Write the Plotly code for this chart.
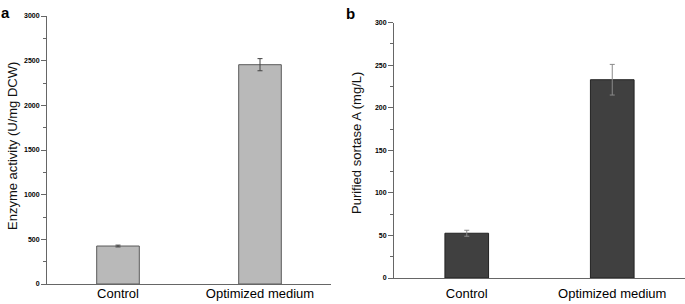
import plotly.graph_objects as go

categories = ["Control", "Optimized medium"]
enzyme_activity = [425, 2455]
enzyme_err = [10, 68]
sortase = [52.6, 233]
sortase_err = [3.5, 18]
y_ticks_a = [0, 500, 1000, 1500, 2000, 2500, 3000]
y_ticks_b = [0, 50, 100, 150, 200, 250, 300]

W, H = 685, 304
fig = go.Figure()

fig.add_trace(go.Bar(
    x=categories, y=enzyme_activity, width=0.3,
    marker=dict(color="#b9b9b9", line=dict(color="#5a5a5a", width=1)),
    error_y=dict(type="data", array=enzyme_err, color="#444444", thickness=1, width=2.5),
    xaxis="x", yaxis="y", showlegend=False, hoverinfo="skip"))

fig.add_trace(go.Bar(
    x=categories, y=sortase, width=0.3,
    marker=dict(color="#404040", line=dict(color="#222222", width=1)),
    error_y=dict(type="data", array=sortase_err, color="#8a8a8a", thickness=1, width=2.5),
    xaxis="x2", yaxis="y2", showlegend=False, hoverinfo="skip"))

font_family = "Liberation Sans, Arial, sans-serif"
common_x = dict(showline=True, linecolor="#666666", linewidth=1, ticks="", showgrid=False,
                zeroline=False, tickfont=dict(family=font_family, size=13, color="#000000"),
                range=[-0.5, 1.5], fixedrange=True, automargin=False)
common_y = dict(showline=True, linecolor="#666666", linewidth=1, ticks="outside", ticklen=5,
                tickcolor="#666666", showgrid=False, zeroline=False, automargin=False,
                fixedrange=True,
                tickfont=dict(family=font_family, size=7, color="#000000", weight="bold"))

fig.update_layout(
    width=W, height=H, margin=dict(l=0, r=0, t=0, b=0),
    paper_bgcolor="white", plot_bgcolor="white",
    xaxis=dict(domain=[47 / W, 331 / W], anchor="y", ticklabelstandoff=-3, **common_x),
    yaxis=dict(domain=[(H - 284) / H, (H - 16) / H], anchor="x", range=[0, 3000],
               tickvals=y_ticks_a,
               minor=dict(ticks="outside", ticklen=3, tickcolor="#666666", dtick=250),
               **common_y),
    xaxis2=dict(domain=[394 / W, 1.0], anchor="y2", ticklabelstandoff=3, **common_x),
    yaxis2=dict(domain=[(H - 278) / H, (H - 22.7) / H], anchor="x2", range=[0, 300],
                tickvals=y_ticks_b,
                minor=dict(ticks="outside", ticklen=3, tickcolor="#666666", dtick=25),
                **common_y),
    annotations=[
        dict(text="<b>a</b>", x=5 / W, y=1 - 12 / H, xref="paper", yref="paper",
             showarrow=False, xanchor="center", yanchor="middle",
             font=dict(family=font_family, size=15, color="#000000")),
        dict(text="<b>b</b>", x=350 / W, y=1 - 14 / H, xref="paper", yref="paper",
             showarrow=False, xanchor="center", yanchor="middle",
             font=dict(family=font_family, size=15, color="#000000")),
        dict(text="Enzyme activity (U/mg DCW)", x=12 / W, y=1 - 146 / H, xref="paper", yref="paper",
             showarrow=False, textangle=-90, xanchor="center", yanchor="middle",
             font=dict(family=font_family, size=13, color="#111111")),
        dict(text="Purified sortase A (mg/L)", x=356 / W, y=1 - 143 / H, xref="paper", yref="paper",
             showarrow=False, textangle=-90, xanchor="center", yanchor="middle",
             font=dict(family=font_family, size=13, color="#111111")),
    ],
)

fig.write_html("out.html", config={"displayModeBar": False, "staticPlot": True},
               post_script="document.body.style.margin='0';document.body.style.overflow='hidden';")
